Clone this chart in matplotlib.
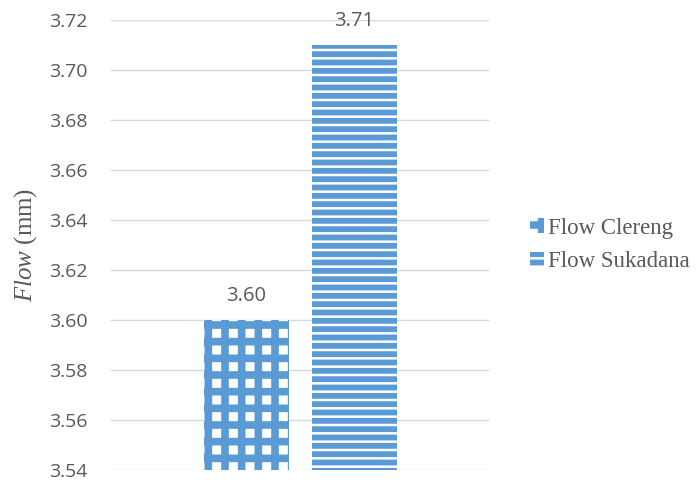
import matplotlib
matplotlib.use("Agg")
import matplotlib.pyplot as plt
from matplotlib.patches import Patch
from matplotlib.legend_handler import HandlerPatch

series = ["Flow Clereng", "Flow Sukadana"]
values = [3.60, 3.71]
labels = ["3.60", "3.71"]
yticks = [3.54, 3.56, 3.58, 3.60, 3.62, 3.64, 3.66, 3.68, 3.70, 3.72]
hatches = ["+", "--"]
hatch_lw = [5.5, 4.2]

blue = "#5B9BD5"
gray = "#595959"

plt.rcParams["mathtext.fontset"] = "custom"
plt.rcParams["mathtext.it"] = "Liberation Serif:italic"
plt.rcParams["mathtext.rm"] = "Liberation Serif"


class HatchHandler(HandlerPatch):
    def create_artists(self, legend, orig_handle, xdescent, ydescent, width, height, fontsize, trans):
        arts = super().create_artists(legend, orig_handle, xdescent, ydescent, width, height, fontsize, trans)
        for a in arts:
            if hasattr(a, "set_hatch_linewidth") and hasattr(orig_handle, "get_hatch_linewidth"):
                a.set_hatch_linewidth(orig_handle.get_hatch_linewidth())
        return arts


fig = plt.figure(figsize=(6.97, 4.80), dpi=100)
ax = fig.add_axes([111/697, 1-470/480, (489-111)/697, (470-20)/480])

width = 0.225
offsets = [-0.1415, 0.143]
ymin = yticks[0]
handles = []
for i, (s, v) in enumerate(zip(series, values)):
    with plt.rc_context({"hatch.linewidth": hatch_lw[i]}):
        b = ax.bar(offsets[i], v - ymin, bottom=ymin, width=width, color="white",
                   edgecolor=blue, linewidth=0, hatch=hatches[i], zorder=3)
        h = Patch(facecolor="white", edgecolor=blue, linewidth=0, hatch=hatches[i], label=s)
        for p in list(b) + [h]:
            if hasattr(p, "set_hatch_linewidth"):
                p.set_hatch_linewidth(hatch_lw[i])
        handles.append(h)
    ax.annotate(labels[i], (offsets[i], v), xytext=(0, 10), textcoords="offset points",
                ha="center", va="bottom", fontsize=14.5, color=gray, family="Open Sans")

ax.set_xlim(-0.5, 0.5)
ax.set_ylim(yticks[0], yticks[-1])
ax.set_yticks(yticks)
ax.set_yticklabels([f"{t:.2f}" for t in yticks], family="Open Sans", fontsize=14, color=gray)
ax.set_xticks([])
ax.tick_params(axis="y", length=0, pad=17)
for sp in ax.spines.values():
    sp.set_visible(False)
ax.grid(axis="y", color="#D9D9D9", linewidth=1.0, zorder=0)
ax.set_axisbelow(True)

fig.text(26/697, 1-245/480, r"$\mathit{Flow}$ (mm)", rotation=90, ha="center", va="center",
         fontsize=18, color=gray, family="Liberation Serif")

leg = fig.legend(handles=handles, loc="center left", bbox_to_anchor=(530/697, 1-245/480), frameon=False,
                 prop={"family": "Liberation Serif", "size": 16.5}, labelcolor=gray,
                 handlelength=0.6, handleheight=0.6, handletextpad=0.2, labelspacing=0.55,
                 borderpad=0, borderaxespad=0,
                 handler_map={Patch: HatchHandler()})

fig.savefig("out.png", dpi=100)
